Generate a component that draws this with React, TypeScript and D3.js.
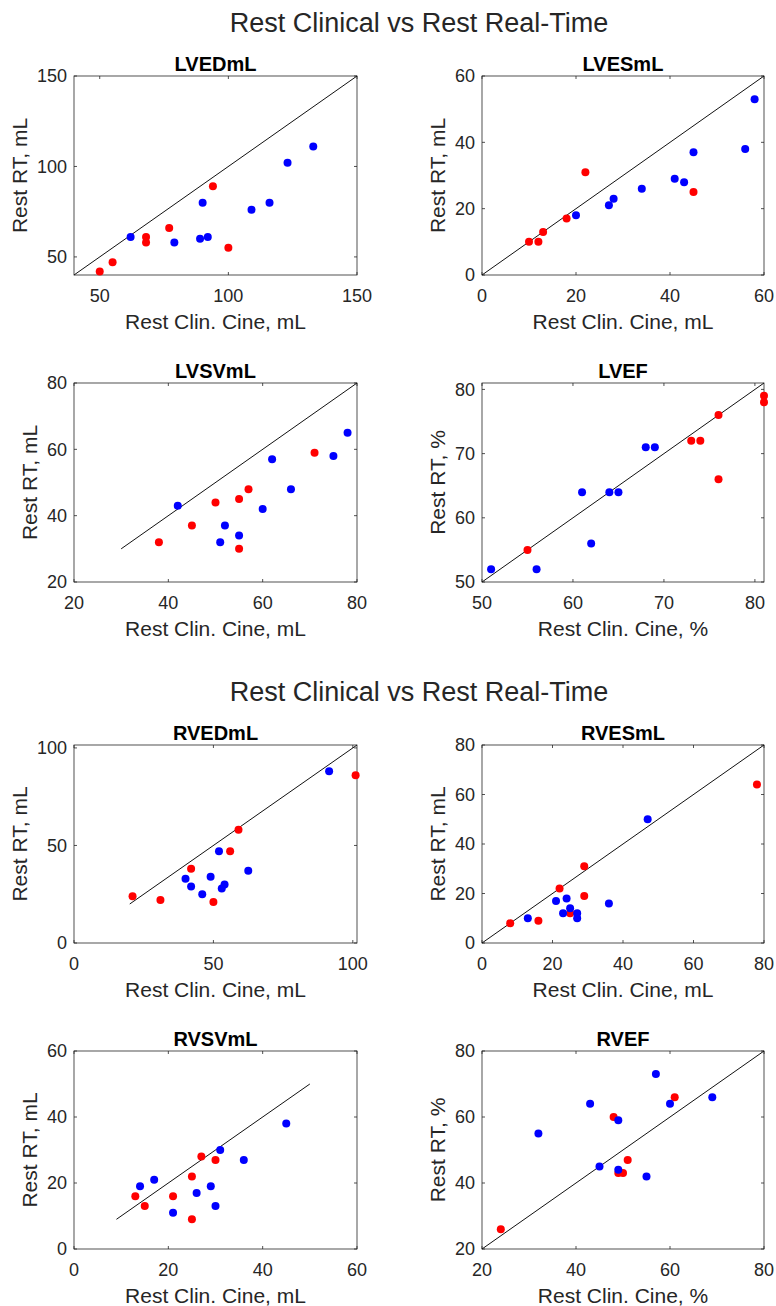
import React, { useEffect } from "react";
import * as d3 from "d3";

const figureTitle = "Rest Clinical vs Rest Real-Time";
const xLabelML = "Rest Clin. Cine, mL";
const xLabelPct = "Rest Clin. Cine, %";
const yLabelML = "Rest RT, mL";
const yLabelPct = "Rest RT, %";

// LVEDmL
const lvedRed = [[50, 42], [55, 47], [68, 61], [68, 58], [77, 66], [94, 89], [100, 55]];
const lvedBlue = [[62, 61], [90, 80], [79, 58], [89, 60], [92, 61], [109, 76], [116, 80], [123, 102], [133, 111]];
const lvedDomain = [40, 150];
const lvedTicks = [50, 100, 150];
const lvedLine = [40, 150];

// LVESmL
const lvesRed = [[10, 10], [12, 10], [13, 13], [18, 17], [22, 31], [45, 25]];
const lvesBlue = [[20, 18], [27, 21], [28, 23], [34, 26], [41, 29], [43, 28], [45, 37], [56, 38], [58, 53]];
const lvesDomain = [0, 60];
const lvesTicks = [0, 20, 40, 60];
const lvesLine = [0, 60];

// LVSVmL
const lvsvRed = [[38, 32], [45, 37], [50, 44], [55, 45], [55, 30], [57, 48], [71, 59]];
const lvsvBlue = [[42, 43], [51, 32], [52, 37], [55, 34], [60, 42], [62, 57], [66, 48], [75, 58], [78, 65]];
const lvsvDomain = [20, 80];
const lvsvTicks = [20, 40, 60, 80];
const lvsvLine = [30, 80];

// LVEF
const lvefRed = [[55, 55], [73, 72], [74, 72], [76, 76], [76, 66], [81, 79], [81, 78]];
const lvefBlue = [[51, 52], [56, 52], [61, 64], [62, 56], [64, 64], [65, 64], [68, 71], [69, 71]];
const lvefDomain = [50, 81];
const lvefTicks = [50, 60, 70, 80];
const lvefLine = [50, 81];

// RVEDmL
const rvedRed = [[21, 24], [31, 22], [42, 38], [50, 21], [56, 47], [59, 58], [101, 86]];
const rvedBlue = [[40, 33], [42, 29], [46, 25], [49, 34], [52, 47], [53, 28], [54, 30], [62.5, 37], [91.5, 88]];
const rvedDomain = [0, 101.5];
const rvedTicks = [0, 50, 100];
const rvedLine = [20, 101.5];

// RVESmL
const rvesRed = [[8, 8], [16, 9], [22, 22], [25, 12], [29, 31], [29, 19], [78, 64]];
const rvesBlue = [[13, 10], [21, 17], [23, 12], [24, 18], [25, 14], [27, 12], [27, 10], [36, 16], [47, 50]];
const rvesDomain = [0, 80];
const rvesTicks = [0, 20, 40, 60, 80];
const rvesLine = [0, 80];

// RVSVmL
const rvsvRed = [[13, 16], [15, 13], [21, 16], [25, 22], [25, 9], [27, 28], [30, 27]];
const rvsvBlue = [[14, 19], [17, 21], [21, 11], [26, 17], [29, 19], [30, 13], [31, 30], [36, 27], [45, 38]];
const rvsvDomain = [0, 60];
const rvsvTicks = [0, 20, 40, 60];
const rvsvLine = [9, 50];

// RVEF
const rvefRed = [[24, 26], [48, 60], [49, 43], [50, 43], [51, 47], [61, 66]];
const rvefBlue = [[32, 55], [43, 64], [45, 45], [49, 59], [49, 44], [55, 42], [57, 73], [60, 64], [69, 66]];
const rvefDomain = [20, 80];
const rvefTicks = [20, 40, 60, 80];
const rvefLine = [20, 80];

const FONT = "'Liberation Sans', Arial, Helvetica, sans-serif";
const AXIS = "#262626";

type PanelProps = {
  left: number; top: number; w: number; h: number;
  title: string; domain: number[]; ticks: number[];
  red: number[][]; blue: number[][]; line: number[];
  xLabel: string; yLabel: string;
};

function Panel(p: PanelProps) {
  const x = d3.scaleLinear().domain(p.domain).range([p.left, p.left + p.w]);
  const y = d3.scaleLinear().domain(p.domain).range([p.top + p.h, p.top]);
  const tl = 3;
  const maxChars = d3.max(p.ticks, (t) => String(t).length) as number;
  const ylx = p.left - 24 - maxChars * 10;
  const bottom = p.top + p.h;
  const right = p.left + p.w;
  const lineGen = d3.line<number>().x((d) => x(d)).y((d) => y(d));
  return (
    <g>
      <text x={p.left + p.w / 2} y={p.top - 5} textAnchor="middle" fontFamily={FONT}
        fontSize={20} fontWeight="bold" fill="#000">{p.title}</text>
      <rect x={p.left} y={p.top} width={p.w} height={p.h} fill="#fff" stroke={AXIS} strokeWidth={0.8} />
      {p.ticks.map((t) => (
        <g key={"xt" + t}>
          <line x1={x(t)} x2={x(t)} y1={bottom} y2={bottom - tl} stroke={AXIS} strokeWidth={0.8} />
          <line x1={x(t)} x2={x(t)} y1={p.top} y2={p.top + tl} stroke={AXIS} strokeWidth={0.8} />
          <text x={x(t)} y={bottom + 21} dy="0.35em" textAnchor="middle" fontFamily={FONT}
            fontSize={18} fill={AXIS}>{t}</text>
        </g>
      ))}
      {p.ticks.map((t) => (
        <g key={"yt" + t}>
          <line x1={p.left} x2={p.left + tl} y1={y(t)} y2={y(t)} stroke={AXIS} strokeWidth={0.8} />
          <line x1={right} x2={right - tl} y1={y(t)} y2={y(t)} stroke={AXIS} strokeWidth={0.8} />
          <text x={p.left - 7} y={y(t)} dy="0.35em" textAnchor="end" fontFamily={FONT}
            fontSize={18} fill={AXIS}>{t}</text>
        </g>
      ))}
      <path d={lineGen(p.line) || ""} stroke="#111" strokeWidth={1} fill="none" />
      {p.red.map((d, i) => (
        <circle key={"r" + i} cx={x(d[0])} cy={y(d[1])} r={4} fill="#ff0000" />
      ))}
      {p.blue.map((d, i) => (
        <circle key={"b" + i} cx={x(d[0])} cy={y(d[1])} r={4} fill="#0000ff" />
      ))}
      <text x={p.left + p.w / 2} y={bottom + 47} dy="0.35em" textAnchor="middle" fontFamily={FONT}
        fontSize={21} fill={AXIS}>{p.xLabel}</text>
      <text transform={`translate(${ylx},${p.top + p.h / 2}) rotate(-90)`} dy="0.35em"
        textAnchor="middle" fontFamily={FONT} fontSize={21} fill={AXIS}>{p.yLabel}</text>
    </g>
  );
}

export default function App() {
  useEffect(() => {
    document.body.style.margin = "0";
  }, []);
  const W = 283, H = 199;
  const L1 = 74, L2 = 482;
  const tops = [76, 383, 745, 1051];
  return (
    <svg width={776} height={1306} style={{ display: "block", background: "#fff" }}>
      <text x={419} y={23} dy="0.35em" textAnchor="middle" fontFamily={FONT} fontSize={27} fill={AXIS}>{figureTitle}</text>
      <text x={419} y={692} dy="0.35em" textAnchor="middle" fontFamily={FONT} fontSize={27} fill={AXIS}>{figureTitle}</text>
      <Panel left={L1} top={tops[0]} w={W} h={H} title="LVEDmL" domain={lvedDomain} ticks={lvedTicks}
        red={lvedRed} blue={lvedBlue} line={lvedLine} xLabel={xLabelML} yLabel={yLabelML} />
      <Panel left={L2} top={tops[0]} w={W - 1} h={H} title="LVESmL" domain={lvesDomain} ticks={lvesTicks}
        red={lvesRed} blue={lvesBlue} line={lvesLine} xLabel={xLabelML} yLabel={yLabelML} />
      <Panel left={L1} top={tops[1]} w={W} h={H} title="LVSVmL" domain={lvsvDomain} ticks={lvsvTicks}
        red={lvsvRed} blue={lvsvBlue} line={lvsvLine} xLabel={xLabelML} yLabel={yLabelML} />
      <Panel left={L2} top={tops[1]} w={W - 1} h={H} title="LVEF" domain={lvefDomain} ticks={lvefTicks}
        red={lvefRed} blue={lvefBlue} line={lvefLine} xLabel={xLabelPct} yLabel={yLabelPct} />
      <Panel left={L1} top={tops[2]} w={W} h={H - 1} title="RVEDmL" domain={rvedDomain} ticks={rvedTicks}
        red={rvedRed} blue={rvedBlue} line={rvedLine} xLabel={xLabelML} yLabel={yLabelML} />
      <Panel left={L2} top={tops[2]} w={W - 1} h={H - 1} title="RVESmL" domain={rvesDomain} ticks={rvesTicks}
        red={rvesRed} blue={rvesBlue} line={rvesLine} xLabel={xLabelML} yLabel={yLabelML} />
      <Panel left={L1} top={tops[3]} w={W} h={H - 1} title="RVSVmL" domain={rvsvDomain} ticks={rvsvTicks}
        red={rvsvRed} blue={rvsvBlue} line={rvsvLine} xLabel={xLabelML} yLabel={yLabelML} />
      <Panel left={L2} top={tops[3]} w={W - 1} h={H - 1} title="RVEF" domain={rvefDomain} ticks={rvefTicks}
        red={rvefRed} blue={rvefBlue} line={rvefLine} xLabel={xLabelPct} yLabel={yLabelPct} />
    </svg>
  );
}
